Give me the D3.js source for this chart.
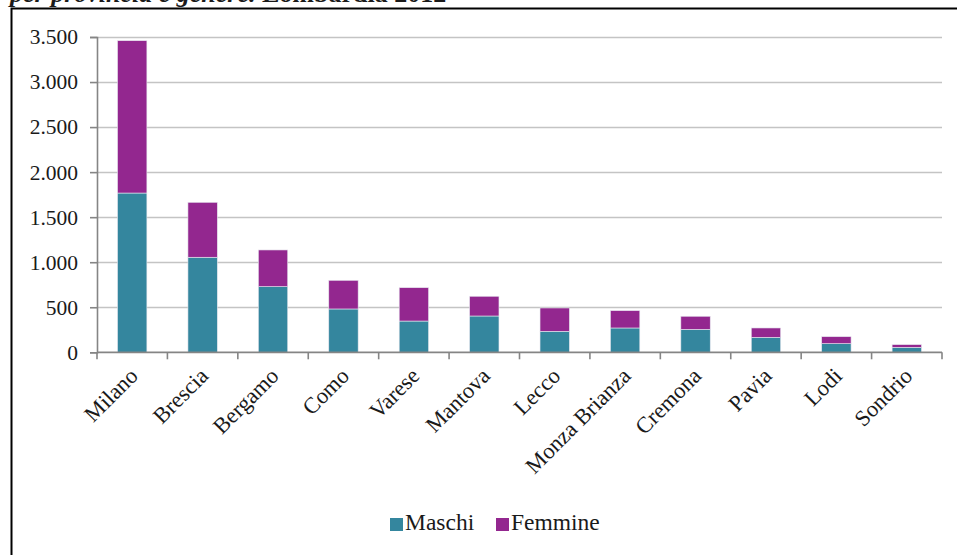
<!DOCTYPE html>
<html><head><meta charset="utf-8">
<script src="https://cdn.jsdelivr.net/npm/d3@7"></script>
<style>
html,body{margin:0;padding:0;background:#fff;}
svg{display:block;}
text{font-family:"Liberation Serif","DejaVu Serif",serif;fill:#1a1a1a;}
</style></head><body>
<script>
const categories = ["Milano","Brescia","Bergamo","Como","Varese","Mantova","Lecco","Monza Brianza","Cremona","Pavia","Lodi","Sondrio"];
const maschi  = [1768,1055,729,481,347,403,233,270,255,166,96,55];
const femmine = [1691,610,407,318,370,219,259,192,145,104,77,30];
const seriesNames = ["Maschi","Femmine"];
const seriesColors = ["#34869e","#93278f"];
const yTicks = [0,500,1000,1500,2000,2500,3000,3500];

const W = 957, H = 555;
const svg = d3.select("body").append("svg").attr("width", W).attr("height", H);

// title (cropped at the top edge, as in the reference)
const title = svg.append("text").attr("x", 10).attr("y", 2)
  .style("font-size", "26px").style("font-weight", "bold");
title.append("tspan").style("font-style", "italic").text("per provincia e genere. ");
title.append("tspan").text("Lombardia 2012");

// frame
svg.append("path").attr("d", `M11.5,${H} V8.5 H${W}`).attr("fill", "none")
  .attr("stroke", "#000").attr("stroke-width", 2);

const x = d3.scaleBand().domain(categories).range([97, 942]).paddingInner(0.583).paddingOuter(0.2915);
const xb = d3.scaleBand().domain(categories).range([97, 942]);
const y = d3.scaleLinear().domain([0, 3500]).range([352.3, 37]);

// gridlines
svg.append("g").selectAll("line").data(yTicks.filter(d => d > 0)).join("line")
  .attr("x1", 97).attr("x2", 942)
  .attr("y1", d => Math.round(y(d)) + 0.5).attr("y2", d => Math.round(y(d)) + 0.5)
  .attr("stroke", "#c4c4c4").attr("stroke-width", 1.6);

// y axis
const yAxis = svg.append("g").attr("transform", "translate(97,0)")
  .call(d3.axisLeft(y).tickValues(yTicks).tickSize(7).tickPadding(12)
    .tickFormat(d => d3.format(",")(d).replace(/,/g, ".")));
yAxis.select(".domain").attr("stroke", "#858585").attr("stroke-width", 1.6);
yAxis.selectAll(".tick line").attr("stroke", "#858585").attr("stroke-width", 1.6);
yAxis.selectAll(".tick text").style("font-size", "21.5px").attr("fill", "#1a1a1a")
  .attr("font-family", null);

// stacked bars
const stackData = categories.map((c, i) => ({cat: c, Maschi: maschi[i], Femmine: femmine[i]}));
const stack = d3.stack().keys(seriesNames)(stackData);
svg.append("g").selectAll("g").data(stack).join("g")
  .attr("fill", (d, i) => seriesColors[i])
  .selectAll("rect").data(d => d).join("rect")
  .attr("x", d => x(d.data.cat))
  .attr("width", x.bandwidth())
  .attr("y", d => y(d[1]))
  .attr("height", d => y(d[0]) - y(d[1]))
  .attr("stroke", "#e6e6ee").attr("stroke-width", 0.6);

// x axis
const xAxisG = svg.append("g").attr("transform", "translate(0,352.3)");
xAxisG.append("line").attr("x1", 97).attr("x2", 942).attr("y1", 0).attr("y2", 0)
  .attr("stroke", "#858585").attr("stroke-width", 1.8);
const bounds = categories.map(c => xb(c)).concat([942]);
xAxisG.selectAll("line.t").data(bounds).join("line").attr("class", "t")
  .attr("x1", d => d).attr("x2", d => d).attr("y1", 0).attr("y2", 7)
  .attr("stroke", "#858585").attr("stroke-width", 1.6);

xAxisG.selectAll("text.cat").data(categories).join("text").attr("class", "cat")
  .attr("text-anchor", "end")
  .attr("transform", c => `translate(${xb(c) + xb.bandwidth() / 2 + 7},${25}) rotate(-45)`)
  .style("font-size", "22.5px")
  .text(c => c);

// legend
const legend = svg.append("g");
const legendPos = [390, 496];
seriesNames.forEach((n, i) => {
  legend.append("rect").attr("x", legendPos[i]).attr("y", 518).attr("width", 13).attr("height", 13)
    .attr("fill", seriesColors[i]);
  legend.append("text").attr("x", legendPos[i] + 15).attr("y", 530)
    .style("font-size", "23.5px").text(n);
});
</script>
</body></html>
